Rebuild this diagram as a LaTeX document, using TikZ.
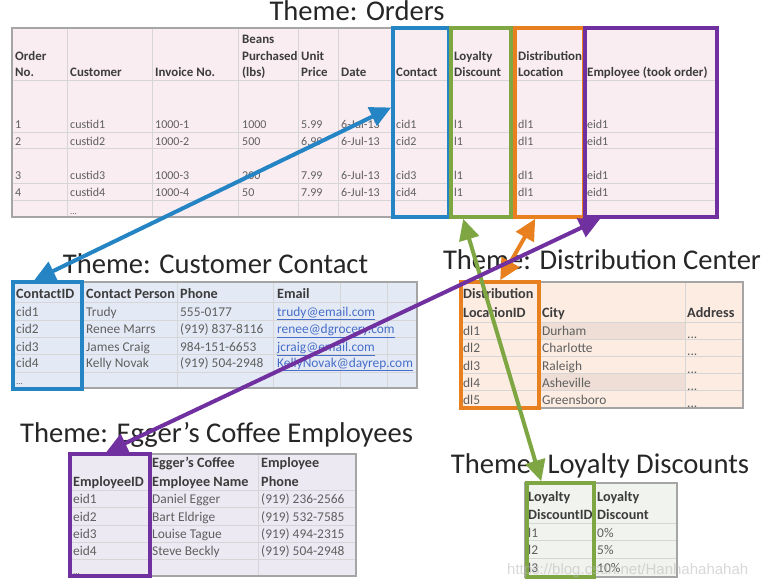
\documentclass[tikz,border=0pt]{standalone}
\usepackage{fontspec}
\setmainfont{Carlito}
\newfontfamily\wmfont{Liberation Sans}
\usetikzlibrary{arrows.meta}
\definecolor{cblue}{RGB}{36,132,196}
\definecolor{cgreen}{RGB}{126,166,66}
\definecolor{corange}{RGB}{232,128,32}
\definecolor{cpurple}{RGB}{112,48,160}
\definecolor{bgorders}{RGB}{249,237,242}
\definecolor{bgcontact}{RGB}{228,234,245}
\definecolor{bgdist}{RGB}{252,236,226}
\definecolor{bgdistdark}{RGB}{238,222,214}
\definecolor{bgemp}{RGB}{237,233,243}
\definecolor{bgloyal}{RGB}{241,243,238}
\definecolor{gridc}{RGB}{214,214,214}
\definecolor{framec}{RGB}{165,165,165}
\definecolor{hdrc}{RGB}{60,60,60}
\definecolor{datc}{RGB}{95,95,95}
\definecolor{linkc}{RGB}{70,110,200}
\definecolor{titlec}{RGB}{38,38,38}
\tikzset{
  ttl/.style={font=\fontsize{28.6}{30}\selectfont, text=titlec, anchor=base, inner sep=0pt},
  oh/.style={font=\fontsize{12.9}{14}\selectfont\bfseries, text=hdrc, anchor=base west, inner sep=0pt},
  od/.style={font=\fontsize{12}{14}\selectfont, text=datc, anchor=base west, inner sep=0pt},
  th/.style={font=\fontsize{14.2}{16}\selectfont\bfseries, text=hdrc, anchor=base west, inner sep=0pt},
  td/.style={font=\fontsize{13.4}{15}\selectfont, text=datc, anchor=base west, inner sep=0pt},
  tl/.style={td, text=linkc},
  tframe/.style={draw=framec, line width=1.2pt},
  tgrid/.style={draw=gridc, line width=0.8pt},
  keybox/.style={line width=3.6pt, inner sep=0pt},
  link/.style={line width=4pt, {Triangle[length=21pt,width=20pt]}-{Triangle[length=21pt,width=20pt]}}
}
\newcommand\custrow[6]{%
  \node[td] (c#1a) at (16,#2) {#3};
  \node[td] (c#1b) at (86,#2) {#4};
  \node[td] (c#1c) at (180,#2) {#5};
  \node[tl] (c#1d) at (277,#2) {\underline{#6}};}
\newcommand\distrow[4]{%
  \node[td] (d#1a) at (463,#2) {#3};
  \node[td] (d#1b) at (542,#2) {#4};
  \node[td] (d#1c) at (687,#2+3) {...};}
\newcommand\emprow[5]{%
  \node[td] (e#1a) at (73,#2) {#3};
  \node[td] (e#1b) at (152,#2) {#4};
  \node[td] (e#1c) at (261,#2) {#5};}
\newcommand\loyrow[4]{%
  \node[td] (l#1a) at (528,#2) {#3};
  \node[td] (l#1b) at (597,#2) {#4};}
\begin{document}
\begin{tikzpicture}[x=1pt,y=-1pt]
\useasboundingbox (0,0) rectangle (770,587);
\fill[white] (0,0) rectangle (770,587);

% ---------------- Orders ----------------
\node[ttl] (tOrders) at (357,20) {Theme: Orders};
\fill[bgorders] (12,28) rectangle (718,217);
\foreach \gx in {67,152,238,298,338,392,450,512,584} \draw[tgrid] (\gx,28) -- (\gx,217);
\foreach \gy in {80,132,148,183,200} \draw[tgrid] (12,\gy) -- (718,\gy);
\draw[tframe] (12,28) rectangle (718,217);
\node[oh] (hOrd1) at (15,60) {Order};
\node[oh] (hOrd2) at (15,76) {No.};
\node[oh] (hCust) at (70,76) {Customer};
\node[oh] (hInv) at (155,76) {Invoice No.};
\node[oh] (hBea1) at (242,43) {Beans};
\node[oh] (hBea2) at (242,60) {Purchased};
\node[oh] (hBea3) at (242,76) {(lbs)};
\node[oh] (hUni1) at (301,60) {Unit};
\node[oh] (hUni2) at (301,76) {Price};
\node[oh] (hDate) at (341,76) {Date};
\node[oh] (hCont) at (396,76) {Contact};
\node[oh] (hLoy1) at (454,60) {Loyalty};
\node[oh] (hLoy2) at (454,76) {Discount};
\node[oh] (hDis1) at (518,60) {Distribution};
\node[oh] (hDis2) at (518,76) {Location};
\node[oh] (hEmp) at (587,76) {Employee (took order)};
\foreach \r/\ry/\qa/\qb/\qc/\qd/\qe/\qf/\qg/\qh/\qk/\qm in {
  1/128/1/custid1/1000-1/1000/5.99/6-Jul-13/cid1/l1/dl1/eid1,
  2/145/2/custid2/1000-2/500/6.99/6-Jul-13/cid2/l1/dl1/eid1,
  3/179/3/custid3/1000-3/200/7.99/6-Jul-13/cid3/l1/dl1/eid1,
  4/196/4/custid4/1000-4/50/7.99/6-Jul-13/cid4/l1/dl1/eid1}{
  \node[od] (o\r a) at (15,\ry) {\qa};
  \node[od] (o\r b) at (70,\ry) {\qb};
  \node[od] (o\r c) at (155,\ry) {\qc};
  \node[od] (o\r d) at (242,\ry) {\qd};
  \node[od] (o\r e) at (301,\ry) {\qe};
  \node[od] (o\r f) at (341,\ry) {\qf};
  \node[od] (o\r g) at (396,\ry) {\qg};
  \node[od] (o\r h) at (454,\ry) {\qh};
  \node[od] (o\r k) at (518,\ry) {\qk};
  \node[od] (o\r m) at (587,\ry) {\qm};
}
\node[od, font=\fontsize{9}{10}\selectfont] (o5b) at (70,214) {...};
\node[keybox, draw=cblue, minimum width=56pt, minimum height=189pt] (contactcol) at (421,122.5) {};
\node[keybox, draw=cgreen, minimum width=60pt, minimum height=189pt] (loycol) at (481,122.5) {};
\node[keybox, draw=corange, minimum width=69pt, minimum height=189pt] (distcol) at (549.5,122.5) {};
\node[keybox, draw=cpurple, minimum width=132pt, minimum height=189pt] (empcol) at (651,122.5) {};

% ---------------- Customer Contact ----------------
\node[ttl] (tContact) at (215.5,273) {Theme: Customer Contact};
\fill[bgcontact] (12,282) rectangle (417,388);
\foreach \gx in {82,177,273,340,387} \draw[tgrid] (\gx,282) -- (\gx,388);
\foreach \gy in {302,320,337,354,372} \draw[tgrid] (12,\gy) -- (417,\gy);
\draw[tframe] (12,282) rectangle (417,388);
\node[th] (chA) at (16,298) {ContactID};
\node[th] (chB) at (86,298) {Contact Person};
\node[th] (chC) at (180,298) {Phone};
\node[th] (chD) at (277,298) {Email};
\custrow{1}{316}{cid1}{Trudy}{555-0177}{trudy@email.com}
\custrow{2}{333}{cid2}{Renee Marrs}{(919) 837-8116}{renee@dgrocery.com}
\custrow{3}{351}{cid3}{James Craig}{984-151-6653}{jcraig@email.com}
\custrow{4}{367}{cid4}{Kelly Novak}{(919) 504-2948}{KellyNovak@dayrep.com}
\node[td, font=\fontsize{9}{10}\selectfont] (c5a) at (16,384) {...};
\node[keybox, draw=cblue, minimum width=69pt, minimum height=107pt] (contactid) at (47.5,335.5) {};

% ---------------- Distribution Center ----------------
\node[ttl] (tDist) at (602,269) {Theme: Distribution Center};
\fill[bgdist] (460,282) rectangle (743,408);
\fill[bgdistdark] (539,322) rectangle (685,339);
\fill[bgdistdark] (539,373) rectangle (685,390);
\foreach \gx in {539,685} \draw[tgrid] (\gx,282) -- (\gx,408);
\foreach \gy in {322,339,356,373,390} \draw[tgrid] (460,\gy) -- (743,\gy);
\draw[tframe] (460,282) rectangle (743,408);
\node[th] (dhA1) at (463,298) {Distribution};
\node[th] (dhA2) at (463,317) {LocationID};
\node[th] (dhB) at (542,317) {City};
\node[th] (dhC) at (687,317) {Address};
\distrow{1}{335}{dl1}{Durham}
\distrow{2}{352}{dl2}{Charlotte}
\distrow{3}{370}{dl3}{Raleigh}
\distrow{4}{387}{dl4}{Asheville}
\distrow{5}{404}{dl5}{Greensboro}
\node[keybox, draw=corange, minimum width=78pt, minimum height=126pt] (distid) at (500,345) {};

% ---------------- Employees ----------------
\node[ttl] (tEmp) at (216.5,442) {Theme: Egger’s Coffee Employees};
\fill[bgemp] (70,454) rectangle (356,576);
\foreach \gx in {150,258} \draw[tgrid] (\gx,454) -- (\gx,576);
\foreach \gy in {490,507,525,542,559} \draw[tgrid] (70,\gy) -- (356,\gy);
\draw[tframe] (70,454) rectangle (356,576);
\node[th] (ehB1) at (152,467) {Egger's Coffee};
\node[th] (ehC1) at (261,467) {Employee};
\node[th] (ehA) at (73,486) {EmployeeID};
\node[th] (ehB2) at (152,486) {Employee Name};
\node[th] (ehC2) at (261,486) {Phone};
\emprow{1}{503}{eid1}{Daniel Egger}{(919) 236-2566}
\emprow{2}{521}{eid2}{Bart Eldrige}{(919) 532-7585}
\emprow{3}{538}{eid3}{Louise Tague}{(919) 494-2315}
\emprow{4}{555}{eid4}{Steve Beckly}{(919) 504-2948}
\node[td, font=\fontsize{9}{10}\selectfont] (e5a) at (73,574) {...};
\node[keybox, draw=cpurple, minimum width=80pt, minimum height=122pt] (empid) at (110,515) {};

% ---------------- Loyalty Discounts ----------------
\node[ttl] (tLoy) at (600,473) {Theme: Loyalty Discounts};
\fill[bgloyal] (525,483) rectangle (677,577);
\draw[tgrid] (594,483) -- (594,577);
\foreach \gy in {523,540,558} \draw[tgrid] (525,\gy) -- (677,\gy);
\draw[tframe] (525,483) rectangle (677,577);
\node[th] (lhA1) at (528,501) {Loyalty};
\node[th] (lhA2) at (528,519) {DiscountID};
\node[th] (lhB1) at (597,501) {Loyalty};
\node[th] (lhB2) at (597,519) {Discount};
\loyrow{1}{537}{l1}{0\%}
\loyrow{2}{554}{l2}{5\%}
\loyrow{3}{572}{l3}{10\%}
\node[keybox, draw=cgreen, minimum width=67pt, minimum height=94pt] (loyid) at (560.5,530) {};

% watermark
\node[anchor=base west, inner sep=0pt, font=\wmfont\fontsize{15}{16}\selectfont, text=gray!55, opacity=0.55] (wm) at (507,574) {https://blog.csdn.net/Hanhahahahah};

% ---------------- Connectors ----------------
\draw[link, cblue] ([yshift=15pt]contactcol.west) -- ([xshift=23pt]contactid.north west);
\draw[link, corange] ([xshift=22pt]distcol.south west) -- ([xshift=41pt]distid.north west);
\draw[link, cgreen] ([xshift=14pt]loycol.south west) -- ([xshift=16pt]loyid.north west);
\draw[link, cpurple] ([xshift=17pt]empcol.south west) -- ([xshift=38pt]empid.north west);
\end{tikzpicture}
\end{document}
